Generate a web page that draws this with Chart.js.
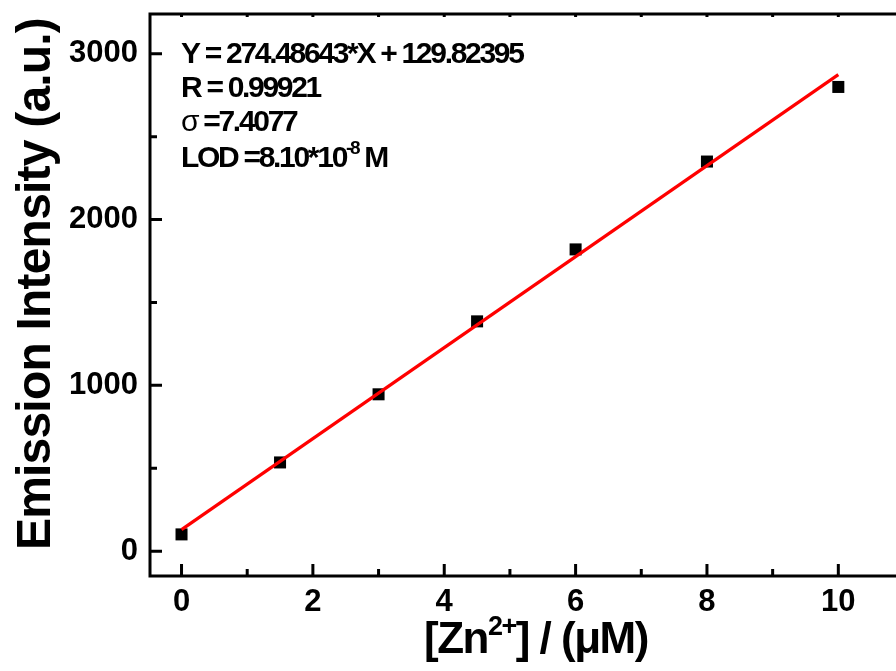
<!DOCTYPE html>
<html><head><meta charset="utf-8">
<script src="https://cdn.jsdelivr.net/npm/chart.js@4.4.1/dist/chart.umd.min.js"></script>
<style>html,body{margin:0;padding:0;background:#fff;overflow:hidden}canvas{display:block}</style>
</head><body>
<canvas id="c" width="920" height="671"></canvas>
<script>
/* calibration plot: emission vs [Zn2+] */
const concZn = [0, 1.5, 3, 4.5, 6, 8, 10];
const intensity = [101, 535, 946, 1386, 1820, 2350, 2800];
const fitX = [0, 10];
const fitY = [129.8, 2874.7];
const xTicks = [0, 2, 4, 6, 8, 10];
const xMinor = [1, 3, 5, 7, 9];
const yTicks = [0, 1000, 2000, 3000];
const yMinor = [500, 1500, 2500];
const FONT = '"Liberation Sans", Arial, sans-serif';

const eqLines = [
  [{t: "Y = 274.48643*X + 129.82395"}],
  [{t: "R = 0.99921"}],
  [{t: "\u03c3", w: "normal"}, {t: " =7.4077"}],
  [{t: "LOD =8.10*10"}, {t: "-8", sup: true}, {t: " M"}]
];

// draws a row of text pieces, superscripts raised & smaller
function drawRuns(ctx, x, y, runs, size, spacing) {
  runs.forEach(r => {
    const s = r.sup ? Math.round(size * 0.62) : size;
    ctx.font = `${r.w || "bold"} ${s}px ${FONT}`;
    ctx.letterSpacing = spacing + "px";
    ctx.fillText(r.t, x, r.sup ? y - size * 0.42 : y);
    x += ctx.measureText(r.t).width;
  });
  return x;
}

const decor = {
  id: "decor",
  afterDraw(chart) {
    const {ctx, chartArea: a, scales: {x: sx, y: sy}} = chart;
    ctx.save();
    ctx.strokeStyle = "#000"; ctx.lineWidth = 3; ctx.lineCap = "butt";
    ctx.beginPath();
    ctx.moveTo(a.left, a.top); ctx.lineTo(a.right, a.top);
    ctx.moveTo(a.left, a.top - 1.5); ctx.lineTo(a.left, a.bottom + 1.5);
    ctx.moveTo(a.left, a.bottom); ctx.lineTo(a.right, a.bottom);
    ctx.moveTo(a.right, a.top); ctx.lineTo(a.right, a.bottom);
    xTicks.forEach(v => { const p = sx.getPixelForValue(v); ctx.moveTo(p, a.bottom); ctx.lineTo(p, a.bottom - 12); ctx.moveTo(p, a.top); ctx.lineTo(p, a.top + 3); });
    xMinor.forEach(v => { const p = sx.getPixelForValue(v); ctx.moveTo(p, a.bottom); ctx.lineTo(p, a.bottom - 7); ctx.moveTo(p, a.top); ctx.lineTo(p, a.top + 3); });
    yTicks.forEach(v => { const p = sy.getPixelForValue(v); ctx.moveTo(a.left, p); ctx.lineTo(a.left + 12, p); });
    yMinor.forEach(v => { const p = sy.getPixelForValue(v); ctx.moveTo(a.left, p); ctx.lineTo(a.left + 7, p); });
    ctx.stroke();

    ctx.fillStyle = "#000"; ctx.textBaseline = "alphabetic"; ctx.textAlign = "left";
    // equation block
    const ys = [63, 97, 131, 167];
    eqLines.forEach((runs, i) => drawRuns(ctx, 181, ys[i], runs, 30, -2.3));

    // x title
    drawRuns(ctx, 424, 653, [{t: "[Zn"}, {t: "2+", sup: true}, {t: "] / (\u03bcM)"}], 44, -1.5);

    // y title
    ctx.translate(50, 284);
    ctx.rotate(-Math.PI / 2);
    ctx.font = `bold 48px ${FONT}`;
    ctx.letterSpacing = "-0.8px";
    ctx.textAlign = "center";
    ctx.fillText("Emission Intensity (a.u.)", 0, 0);
    ctx.restore();
  }
};

new Chart(document.getElementById("c"), {
  type: "scatter",
  data: {
    datasets: [
      {
        data: concZn.map((x, i) => ({x, y: intensity[i]})),
        pointStyle: "rect", pointRadius: 8.5, pointHoverRadius: 8.5,
        backgroundColor: "#000", borderColor: "#000", borderWidth: 0, order: 1
      },
      {
        data: fitX.map((x, i) => ({x, y: fitY[i]})),
        showLine: true, borderColor: "#ff0000", borderWidth: 3.2,
        pointRadius: 0, order: 0
      }
    ]
  },
  options: {
    responsive: false, animation: false,
    layout: {padding: {top: 14, right: 16, left: 0, bottom: 0}},
    plugins: {legend: {display: false}, tooltip: {enabled: false}},
    scales: {
      x: {
        type: "linear", min: -0.48, max: 11,
        grid: {display: false, drawTicks: false}, border: {display: false},
        afterBuildTicks: s => { s.ticks = xTicks.map(v => ({value: v})); },
        afterFit: s => { s.height = 95; s.paddingLeft = 0; s.paddingRight = 0; },
        ticks: {color: "#000", padding: 8, font: {family: FONT, size: 31, weight: "bold"}, maxRotation: 0,
          callback: v => String(v)}
      },
      y: {
        min: -150, max: 3240,
        grid: {display: false, drawTicks: false}, border: {display: false},
        afterBuildTicks: s => { s.ticks = yTicks.map(v => ({value: v})); },
        afterFit: s => { s.width = 150; s.paddingTop = 0; s.paddingBottom = 0; },
        ticks: {color: "#000", padding: 12, font: {family: FONT, size: 31, weight: "bold"},
          callback: v => String(v)}
      }
    }
  },
  plugins: [decor]
});
</script>
</body></html>
